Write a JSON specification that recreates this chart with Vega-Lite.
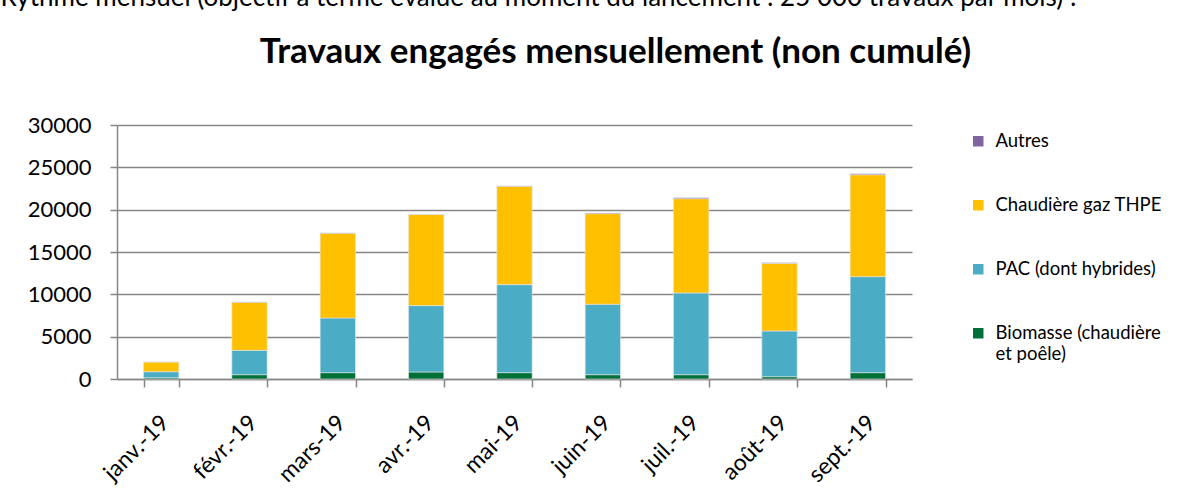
{
  "$schema": "https://vega.github.io/schema/vega-lite/v6.json",
  "autosize": {"type": "none"},
  "width": 795,
  "height": 254,
  "padding": {"left": 117, "top": 125, "right": 292, "bottom": 122},
  "background": "white",
  "title": {
    "text": "Travaux engagés mensuellement (non cumulé)",
    "anchor": "middle",
    "frame": "group",
    "dx": 101,
    "offset": -114,
    "baseline": "alphabetic",
    "font": "Lato",
    "fontSize": 35,
    "fontWeight": "bold",
    "color": "#000000"
  },
  "data": {
    "values": [
      {"mois": "janv.-19", "cat": "Biomasse (chaudière et poêle)", "ord": 1, "v": 150},
      {"mois": "janv.-19", "cat": "PAC (dont hybrides)", "ord": 2, "v": 710},
      {"mois": "janv.-19", "cat": "Chaudière gaz THPE", "ord": 3, "v": 1150},
      {"mois": "janv.-19", "cat": "Autres", "ord": 4, "v": 10},
      {"mois": "févr.-19", "cat": "Biomasse (chaudière et poêle)", "ord": 1, "v": 510},
      {"mois": "févr.-19", "cat": "PAC (dont hybrides)", "ord": 2, "v": 2880},
      {"mois": "févr.-19", "cat": "Chaudière gaz THPE", "ord": 3, "v": 5680},
      {"mois": "févr.-19", "cat": "Autres", "ord": 4, "v": 20},
      {"mois": "mars-19", "cat": "Biomasse (chaudière et poêle)", "ord": 1, "v": 750},
      {"mois": "mars-19", "cat": "PAC (dont hybrides)", "ord": 2, "v": 6460},
      {"mois": "mars-19", "cat": "Chaudière gaz THPE", "ord": 3, "v": 10010},
      {"mois": "mars-19", "cat": "Autres", "ord": 4, "v": 30},
      {"mois": "avr.-19", "cat": "Biomasse (chaudière et poêle)", "ord": 1, "v": 830},
      {"mois": "avr.-19", "cat": "PAC (dont hybrides)", "ord": 2, "v": 7840},
      {"mois": "avr.-19", "cat": "Chaudière gaz THPE", "ord": 3, "v": 10760},
      {"mois": "avr.-19", "cat": "Autres", "ord": 4, "v": 40},
      {"mois": "mai-19", "cat": "Biomasse (chaudière et poêle)", "ord": 1, "v": 750},
      {"mois": "mai-19", "cat": "PAC (dont hybrides)", "ord": 2, "v": 10400},
      {"mois": "mai-19", "cat": "Chaudière gaz THPE", "ord": 3, "v": 11610},
      {"mois": "mai-19", "cat": "Autres", "ord": 4, "v": 50},
      {"mois": "juin-19", "cat": "Biomasse (chaudière et poêle)", "ord": 1, "v": 510},
      {"mois": "juin-19", "cat": "PAC (dont hybrides)", "ord": 2, "v": 8320},
      {"mois": "juin-19", "cat": "Chaudière gaz THPE", "ord": 3, "v": 10700},
      {"mois": "juin-19", "cat": "Autres", "ord": 4, "v": 80},
      {"mois": "juil.-19", "cat": "Biomasse (chaudière et poêle)", "ord": 1, "v": 510},
      {"mois": "juil.-19", "cat": "PAC (dont hybrides)", "ord": 2, "v": 9660},
      {"mois": "juil.-19", "cat": "Chaudière gaz THPE", "ord": 3, "v": 11130},
      {"mois": "juil.-19", "cat": "Autres", "ord": 4, "v": 120},
      {"mois": "août-19", "cat": "Biomasse (chaudière et poêle)", "ord": 1, "v": 270},
      {"mois": "août-19", "cat": "PAC (dont hybrides)", "ord": 2, "v": 5400},
      {"mois": "août-19", "cat": "Chaudière gaz THPE", "ord": 3, "v": 7990},
      {"mois": "août-19", "cat": "Autres", "ord": 4, "v": 60},
      {"mois": "sept.-19", "cat": "Biomasse (chaudière et poêle)", "ord": 1, "v": 750},
      {"mois": "sept.-19", "cat": "PAC (dont hybrides)", "ord": 2, "v": 11340},
      {"mois": "sept.-19", "cat": "Chaudière gaz THPE", "ord": 3, "v": 12040},
      {"mois": "sept.-19", "cat": "Autres", "ord": 4, "v": 100}
    ]
  },
  "mark": {"type": "bar", "stroke": "#e6e6e6", "strokeWidth": 0.6},
  "encoding": {
    "x": {
      "field": "mois",
      "type": "nominal",
      "sort": null,
      "scale": {"paddingInner": 0.6, "paddingOuter": 0.3},
      "axis": {
        "title": null,
        "labelAngle": -45,
        "labelFont": "Lato",
        "labelFontSize": 23,
        "labelColor": "#000000",
        "labelPadding": 24,
        "labelOffset": -4,
        "tickBand": "extent",
        "tickSize": 8,
        "tickColor": "#868686",
        "tickWidth": 1.5,
        "domainColor": "#868686",
        "domainWidth": 1.5,
        "grid": false
      }
    },
    "y": {
      "field": "v",
      "type": "quantitative",
      "stack": "zero",
      "scale": {"domain": [0, 30000], "nice": false},
      "axis": {
        "values": [0, 5000, 10000, 15000, 20000, 25000, 30000],
        "format": "d",
        "title": "Rythme mensuel (objectif à terme évalué au moment du lancement : 25 000 travaux par mois) :",
        "titleAngle": 0,
        "titleAlign": "left",
        "titleBaseline": "alphabetic",
        "titleX": -117,
        "titleY": -120,
        "titleFont": "Lato",
        "titleFontSize": 26,
        "titleFontWeight": "normal",
        "titleColor": "#000000",
        "labelFont": "Lato",
        "labelFontSize": 22,
        "labelColor": "#000000",
        "labelPadding": 19,
        "tickSize": 7,
        "tickColor": "#868686",
        "tickWidth": 1.5,
        "domainColor": "#868686",
        "domainWidth": 1.5,
        "gridColor": "#868686",
        "gridWidth": 1.5
      }
    },
    "color": {
      "field": "cat",
      "type": "nominal",
      "scale": {
        "domain": ["Autres", "Chaudière gaz THPE", "PAC (dont hybrides)", "Biomasse (chaudière et poêle)"],
        "range": ["#8064A2", "#FFC000", "#4BACC6", "#007038"]
      },
      "legend": {
        "title": null,
        "orient": "none",
        "legendX": 852,
        "legendY": 7,
        "symbolType": "square",
        "symbolSize": 110,
        "symbolStrokeWidth": 0,
        "labelFont": "Lato",
        "labelFontSize": 18.5,
        "labelColor": "#000000",
        "labelOffset": 8,
        "rowPadding": 45,
        "labelLimit": 400,
        "labelExpr": "datum.label == 'Biomasse (chaudière et poêle)' ? ['Biomasse (chaudière', 'et poêle)'] : datum.label"
      }
    },
    "order": {"field": "ord", "type": "quantitative"}
  },
  "config": {
    "view": {"stroke": null}
  }
}
